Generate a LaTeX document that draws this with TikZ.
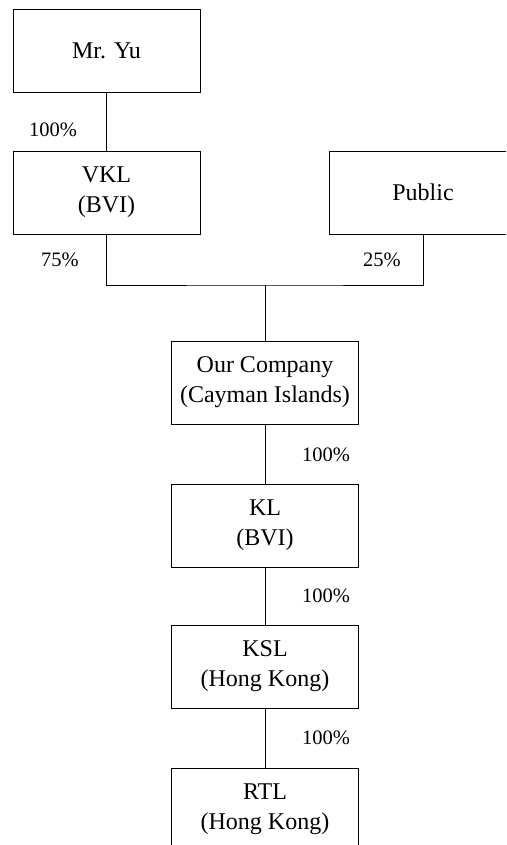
\documentclass[tikz,border=0pt]{standalone}
\usepackage{fontspec}
\setmainfont{Liberation Serif}
\begin{document}
\begin{tikzpicture}[x=1pt,y=1pt,
  box/.style={draw, line width=0.9pt, rectangle, minimum width=187pt, minimum height=83pt, inner sep=0pt, align=center, font=\fontsize{24}{30}\selectfont},
  pct/.style={inner sep=0pt, font=\fontsize{20.5}{24}\selectfont},
  conn/.style={line width=0.9pt}]
\useasboundingbox (0,0) rectangle (506,-845);
\clip (0,0) rectangle (506,-845);
\node[box] (yu) at (106.5,-50.5) {Mr. Yu};
\node[box] (vkl) at (106.5,-192.5) {VKL\\(BVI)};
\node[box] (pub) at (423,-192.5) {Public};
\node[box] (oc) at (265,-382.5) {Our Company\\(Cayman Islands)};
\node[box] (kl) at (265,-525.5) {KL\\(BVI)};
\node[box] (ksl) at (265,-666.5) {KSL\\(Hong Kong)};
\node[box] (rtl) at (265,-809.5) {RTL\\(Hong Kong)};
\coordinate (j) at (265,-285);
\draw[conn] (yu) -- (vkl);
\draw[conn] (vkl.south) |- (j) -| (pub.south);
\draw[conn] (j) -- (oc.north);
\draw[conn] (oc) -- (kl);
\draw[conn] (kl) -- (ksl);
\draw[conn] (ksl) -- (rtl);
\node[pct] (p1) at (53,-130) {100\%};
\node[pct] (p2) at (60,-260) {75\%};
\node[pct] (p3) at (382,-260) {25\%};
\node[pct] (p4) at (326,-455) {100\%};
\node[pct] (p5) at (326,-596) {100\%};
\node[pct] (p6) at (326,-738) {100\%};
\end{tikzpicture}
\end{document}
